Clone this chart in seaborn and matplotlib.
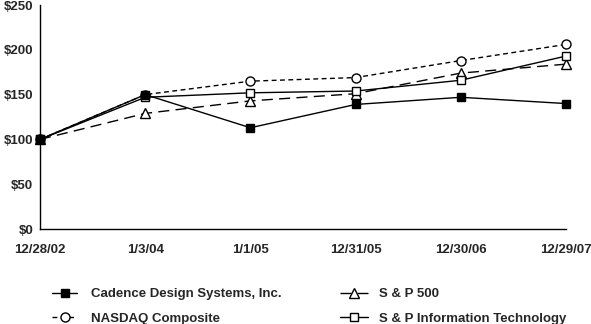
import matplotlib
matplotlib.use("Agg")
import matplotlib.pyplot as plt
import seaborn as sns
import pandas as pd

dates = ["12/28/02", "1/3/04", "1/1/05", "12/31/05", "12/30/06", "12/29/07"]
cadence = [100, 150, 113, 139, 147, 140]
nasdaq = [100, 150, 165, 169, 188, 206]
sp500 = [100, 129, 143, 151, 174, 184]
sp_it = [100, 147, 152, 154, 166, 193]
yticks = [0, 50, 100, 150, 200, 250]

sns.set_style("white")
plt.rcParams['font.family'] = ['Liberation Sans', 'DejaVu Sans']
plt.rcParams['font.weight'] = 'bold'

fig = plt.figure(figsize=(5.91, 3.24), dpi=100)
ax = fig.add_axes([40/591, 1-229/324, (566-40)/591, (229-5)/324])

x = list(range(len(dates)))
series = [
    ("Cadence Design Systems, Inc.", cadence, 's', '-', 'black', 6.0, 5),
    ("NASDAQ Composite", nasdaq, 'o', (0, (3.5, 2.5)), 'white', 6.5, 3),
    ("S & P 500", sp500, '^', (0, (8, 4.5)), 'white', 7.0, 2),
    ("S & P Information Technology", sp_it, 's', '-', 'white', 6.0, 4),
]
for name, vals, mk, ls, mfc, ms, z in series:
    df = pd.DataFrame({"x": x, "y": vals})
    sns.lineplot(data=df, x="x", y="y", ax=ax, color='black', linewidth=1.0,
                 marker=mk, markersize=ms, markerfacecolor=mfc,
                 markeredgecolor='black', markeredgewidth=1.0, label=name, zorder=z)
    ax.lines[-1].set_linestyle(ls)

ax.set_xlim(0, 5)
ax.set_ylim(0, 250)
ax.set_xticks(x)
ax.set_xticklabels(dates)
ax.set_yticks(yticks)
ax.set_yticklabels([f"${v}" for v in yticks])
ax.set_xlabel("")
ax.set_ylabel("")
for s in ['top', 'right']:
    ax.spines[s].set_visible(False)
for s in ['left', 'bottom']:
    ax.spines[s].set_color('black')
    ax.spines[s].set_linewidth(1.0)
ax.tick_params(axis='x', length=4, width=0.8, color='black', direction='out', pad=7, labelsize=9.5)
ax.tick_params(axis='y', length=0, pad=5, labelsize=9.5)
for lab in ax.get_xticklabels() + ax.get_yticklabels():
    lab.set_fontweight('bold')
for ln in ax.lines:
    ln.set_clip_on(False)

handles, labels = ax.get_legend_handles_labels()
ax.get_legend().remove()
prop = {'weight': 'bold', 'size': 9.5}
leg1 = fig.legend(handles[:2], labels[:2], ncol=1, loc='upper left',
                  bbox_to_anchor=(52/591, 1-288/324), frameon=False,
                  handlelength=1.9, handletextpad=1.05, borderpad=0, borderaxespad=0,
                  labelspacing=0.95, prop=prop)
leg2 = fig.legend(handles[2:], labels[2:], ncol=1, loc='upper left',
                  bbox_to_anchor=(340/591, 1-288/324), frameon=False,
                  handlelength=2.1, handletextpad=0.85, borderpad=0, borderaxespad=0,
                  labelspacing=0.95, prop=prop)
fig.savefig("out.png", dpi=100)
